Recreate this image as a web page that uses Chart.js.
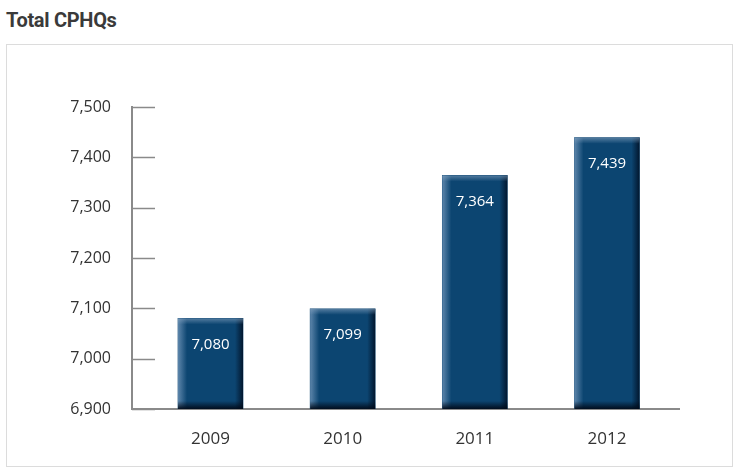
<!DOCTYPE html>
<html>
<head>
<meta charset="utf-8">
<script src="https://cdn.jsdelivr.net/npm/chart.js@4.4.1/dist/chart.umd.min.js"></script>
<style>
  html, body { margin:0; padding:0; background:#fff; }
  #wrap { position:relative; width:740px; height:475px; overflow:hidden; }
  #title { position:absolute; left:6px; top:8px; font:bold 20px Roboto, "Liberation Sans", sans-serif; color:#3a3a3a; letter-spacing:-0.3px; }
  #box { position:absolute; left:6px; top:44px; width:725px; height:421px; border:1.5px solid #dcdcdc; }
  #chart { position:absolute; left:0; top:0; }
</style>
</head>
<body>
<div id="wrap">
  <div id="title">Total CPHQs</div>
  <div id="box"></div>
  <canvas id="chart" width="740" height="475"></canvas>
</div>
<script>
// jaren + waarden
const years = [2009, 2010, 2011, 2012];
const totals = [7080, 7099, 7364, 7439];
const yTicks = [6900, 7000, 7100, 7200, 7300, 7400, 7500];

const axisGray = "#8a8a8a";
const fontFam = "'Open Sans', 'DejaVu Sans', sans-serif";

// kleine tick streepjes naar binnen
const innerTicks = {
  id: "innerTicks",
  afterDraw(chart){
    const ctx = chart.ctx, y = chart.scales.y, left = chart.chartArea.left;
    ctx.save();
    ctx.strokeStyle = axisGray;
    ctx.lineWidth = 1.5;
    yTicks.forEach(v=>{
      const py = Math.round(y.getPixelForValue(v)) + 0.5;
      ctx.beginPath();
      ctx.moveTo(left, py);
      ctx.lineTo(left + 23, py);
      ctx.stroke();
    });
    ctx.restore();
  }
};

// randjes: glans links/boven, schaduw rechts/onder, labels
const barDeco = {
  id: "barDeco",
  afterDatasetsDraw(chart){
    const ctx = chart.ctx;
    const meta = chart.getDatasetMeta(0);
    ctx.save();
    meta.data.forEach((bar, i)=>{
      const bottom = Math.min(bar.base, chart.chartArea.bottom);
      const l = bar.x - bar.width/2, w = bar.width, h = bottom - bar.y;
      // left highlight
      let g = ctx.createLinearGradient(l, 0, l + 9, 0);
      g.addColorStop(0, "rgba(120,155,190,0.75)");
      g.addColorStop(1, "rgba(120,155,190,0)");
      ctx.fillStyle = g;
      ctx.fillRect(l, bar.y, 9, h);
      // right shadow
      g = ctx.createLinearGradient(l + w - 8, 0, l + w, 0);
      g.addColorStop(0, "rgba(0,15,35,0)");
      g.addColorStop(1, "rgba(0,15,35,0.85)");
      ctx.fillStyle = g;
      ctx.fillRect(l + w - 8, bar.y, 8, h);
      // top highlight
      g = ctx.createLinearGradient(0, bar.y, 0, bar.y + 6);
      g.addColorStop(0, "rgba(130,160,190,0.6)");
      g.addColorStop(1, "rgba(130,160,190,0)");
      ctx.fillStyle = g;
      ctx.fillRect(l, bar.y, w, 6);
      // bottom shadow
      g = ctx.createLinearGradient(0, bottom - 8, 0, bottom);
      g.addColorStop(0, "rgba(0,10,25,0)");
      g.addColorStop(1, "rgba(0,10,25,0.95)");
      ctx.fillStyle = g;
      ctx.fillRect(l, bottom - 8, w, 8);
      // label
      ctx.fillStyle = "#ffffff";
      ctx.font = "15px " + fontFam;
      ctx.textAlign = "center";
      ctx.textBaseline = "middle";
      ctx.fillText(totals[i].toLocaleString("en-US"), bar.x, bar.y + 26);
    });
    ctx.restore();
  }
};

const ctx = document.getElementById("chart").getContext("2d");
new Chart(ctx, {
  type: "bar",
  data: {
    datasets: [{
      data: years.map((yr, i)=>({ x: yr, y: totals[i] })),
      barThickness: 65,
      backgroundColor: "#0c4571"
    }]
  },
  options: {
    responsive: false,
    animation: false,
    locale: "en-US",
    layout: { padding: { top: 107, right: 61, left: 0, bottom: 0 } },
    plugins: { legend: { display: false }, tooltip: { enabled: false } },
    scales: {
      x: {
        type: "linear",
        offset: false,
        min: 2008.406,
        max: 2012.545,
        afterBuildTicks: (s)=>{ s.ticks = years.map(v=>({ value: v })); },
        afterFit: (s)=>{ s.height = 66; },
        grid: { display: false },
        border: { color: axisGray, width: 2 },
        ticks: {
          padding: 12,
          color: "#333",
          font: { family: fontFam, size: 17 },
          callback: (v)=> String(v)
        }
      },
      y: {
        min: 6900,
        max: 7500,
        afterBuildTicks: (s)=>{ s.ticks = yTicks.map(v=>({ value: v })); },
        afterFit: (s)=>{ s.width = 132; },
        grid: { display: false },
        border: { color: axisGray, width: 2 },
        ticks: {
          padding: 13,
          color: "#333",
          font: { family: fontFam, size: 16 }
        }
      }
    }
  },
  plugins: [innerTicks, barDeco]
});
</script>
</body>
</html>
